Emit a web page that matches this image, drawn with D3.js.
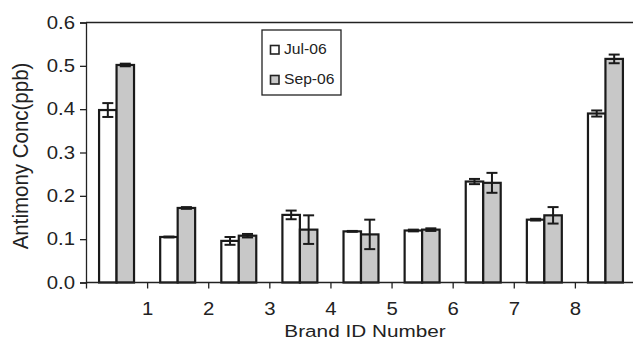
<!DOCTYPE html>
<html><head><meta charset="utf-8">
<script src="https://cdn.jsdelivr.net/npm/d3@7"></script>
<style>body{margin:0;background:#fff}svg{display:block}text{font-family:"Liberation Sans",Arial,sans-serif;fill:#222}</style>
</head><body>
<svg id="c" width="633" height="341"></svg>
<script>
const brands = [0,1,2,3,4,5,6,7,8];
const tickLabels = ["","1","2","3","4","5","6","7","8"];
const jul = [0.398, 0.105, 0.096, 0.156, 0.118, 0.120, 0.233, 0.145, 0.390];
const julErr = [0.016, 0.001, 0.009, 0.010, 0.001, 0.002, 0.006, 0.002, 0.007];
const sep = [0.502, 0.172, 0.108, 0.122, 0.111, 0.122, 0.230, 0.155, 0.516];
const sepErr = [0.003, 0.002, 0.004, 0.033, 0.034, 0.003, 0.023, 0.019, 0.010];
const yTicks = [0, 0.1, 0.2, 0.3, 0.4, 0.5, 0.6];
const seriesNames = ["Jul-06", "Sep-06"];
const colors = ["#ffffff", "#c8c8c8"];

const svg = d3.select("#c");
const x = d3.scaleLinear().domain([0, 9]).range([86, 636]);
const y = d3.scaleLinear().domain([0, 0.6]).range([282.5, 22.5]);
const bw = (x(1) - x(0)) * 0.286;

// frame top
svg.append("line").attr("x1", 86).attr("x2", 633).attr("y1", y(0.6)).attr("y2", y(0.6))
  .attr("stroke", "#222").attr("stroke-width", 1.3);

const series = [jul, sep], errs = [julErr, sepErr];
series.forEach((vals, s) => {
  const g = svg.append("g");
  g.selectAll("rect").data(brands).join("rect")
    .attr("x", d => x(d + 0.5) - bw + s * bw)
    .attr("y", d => y(vals[d]))
    .attr("width", bw)
    .attr("height", d => y(0) - y(vals[d]))
    .attr("fill", colors[s]).attr("stroke", "#1a1a1a").attr("stroke-width", 2.2);
  const eg = svg.append("g").attr("stroke", "#1a1a1a").attr("stroke-width", 2);
  brands.forEach(d => {
    const cx = x(d + 0.5) - bw / 2 + s * bw;
    const lo = y(vals[d] - errs[s][d]), hi = y(vals[d] + errs[s][d]);
    eg.append("line").attr("x1", cx).attr("x2", cx).attr("y1", lo).attr("y2", hi);
    eg.append("line").attr("x1", cx - 5.5).attr("x2", cx + 5.5).attr("y1", lo).attr("y2", lo);
    eg.append("line").attr("x1", cx - 5.5).attr("x2", cx + 5.5).attr("y1", hi).attr("y2", hi);
  });
});

// y axis
const ya = svg.append("g").attr("transform", "translate(86,0)")
  .call(d3.axisLeft(y).tickValues(yTicks).tickFormat(d3.format(".1f")).tickSize(6).tickPadding(5));
ya.select(".domain").attr("stroke", "#222").attr("stroke-width", 1.3);
ya.selectAll(".tick line").attr("stroke", "#222").attr("stroke-width", 1.3);
ya.selectAll(".tick text").attr("font-size", 18).attr("fill", "#222")
  .attr("font-family", "Liberation Sans, Arial, sans-serif")
  .each(function(){
    const t = d3.select(this);
    const xx = +t.attr("x");
    t.attr("transform", `translate(${xx},0) scale(1.13,1) translate(${-xx},0)`);
  });

// x axis
const xa = svg.append("g").attr("transform", `translate(0,${y(0)})`)
  .call(d3.axisBottom(x).tickValues(brands).tickFormat((d, i) => tickLabels[i]).tickSize(6).tickPadding(14).tickSizeOuter(0));
xa.select(".domain").attr("stroke", "#222").attr("stroke-width", 1.3).attr("d", `M86,0H633`);
xa.selectAll(".tick line").attr("stroke", "#222").attr("stroke-width", 1.3);
xa.selectAll(".tick text").attr("font-size", 18).attr("fill", "#222")
  .attr("font-family", "Liberation Sans, Arial, sans-serif")
  .attr("transform", "scale(1.13,1)");

// axis titles
svg.append("text").attr("x", 365).attr("y", 337).attr("text-anchor", "middle")
  .attr("font-size", 17).attr("transform", "translate(365,0) scale(1.22,1) translate(-365,0)")
  .text("Brand ID Number");
svg.append("text").attr("transform", "translate(28,156) rotate(-90) scale(1,1.1)").attr("text-anchor", "middle")
  .attr("font-size", 20.5).text("Antimony Conc(ppb)");

// legend
const lg = svg.append("g");
lg.append("rect").attr("x", 262).attr("y", 30).attr("width", 79).attr("height", 65)
  .attr("fill", "#fff").attr("stroke", "#222").attr("stroke-width", 1.3);
seriesNames.forEach((n, i) => {
  const yy = 45.5 + i * 30;
  lg.append("rect").attr("x", 270.5).attr("y", yy).attr("width", 8.5).attr("height", 8.5)
    .attr("fill", colors[i]).attr("stroke", "#222").attr("stroke-width", 1.6);
  lg.append("text").attr("x", 284).attr("y", yy + 9).attr("font-size", 14.5)
    .attr("transform", "translate(284,0) scale(1.08,1) translate(-284,0)").text(n);
});
</script>
</body></html>
